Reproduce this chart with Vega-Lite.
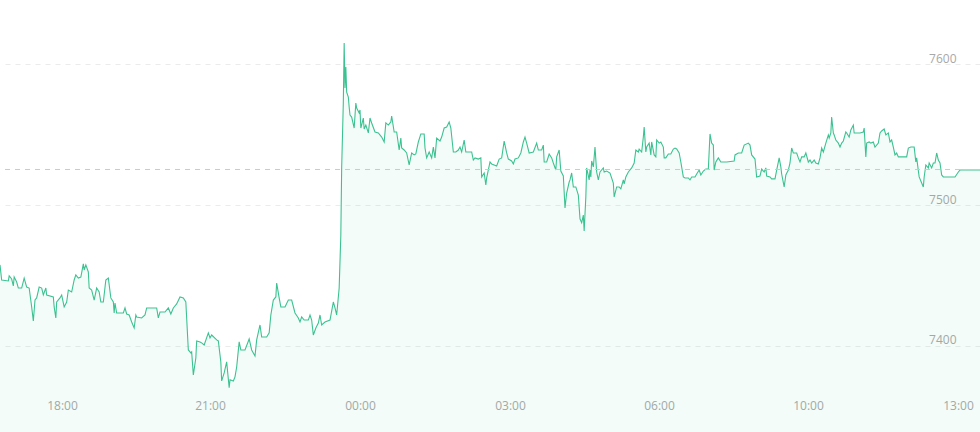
{
  "$schema": "https://vega.github.io/schema/vega-lite/v6.json",
  "width": 980,
  "height": 432,
  "autosize": "none",
  "padding": 0,
  "background": "#ffffff",
  "config": {"view": {"stroke": null}},
  "datasets": {
    "price": [
      {"m":0,"p":7457.5},{"m":2,"p":7446.8},{"m":10,"p":7446.1},{"m":11,"p":7449.7},{"m":14,"p":7447.5},{"m":16,"p":7442.6},{"m":17,"p":7448.9},{"m":20,"p":7445.4},{"m":22,"p":7441.1},{"m":26,"p":7441.1},{"m":29,"p":7448.2},{"m":32,"p":7441.8},{"m":35,"p":7441.1},{"m":38,"p":7427.7},{"m":40,"p":7417.7},{"m":42,"p":7432.6},{"m":44,"p":7434.1},{"m":47,"p":7441.8},{"m":50,"p":7441.1},{"m":52,"p":7436.2},{"m":55,"p":7441.1},{"m":56,"p":7436.2},{"m":64,"p":7434.8},{"m":65,"p":7427.7},{"m":67,"p":7419.9},{"m":68,"p":7431.2},{"m":72,"p":7434.1},{"m":74,"p":7436.2},{"m":77,"p":7427.7},{"m":80,"p":7431.2},{"m":82,"p":7439.7},{"m":86,"p":7438.3},{"m":89,"p":7446.8},{"m":91,"p":7450.4},{"m":94,"p":7448.2},{"m":97,"p":7448.9},{"m":100,"p":7458.2},{"m":101,"p":7453.9},{"m":103,"p":7457.5},{"m":106,"p":7452.5},{"m":107,"p":7441.1},{"m":110,"p":7439.7},{"m":113,"p":7432.6},{"m":116,"p":7441.1},{"m":119,"p":7438.3},{"m":121,"p":7431.2},{"m":124,"p":7431.2},{"m":127,"p":7446.8},{"m":130,"p":7448.2},{"m":133,"p":7434.1},{"m":136,"p":7431.2},{"m":137,"p":7423.4},{"m":138,"p":7430.5},{"m":140,"p":7423.4},{"m":148,"p":7423.4},{"m":150,"p":7427.0},{"m":152,"p":7422.7},{"m":155,"p":7422.0},{"m":158,"p":7417.0},{"m":161,"p":7412.8},{"m":163,"p":7422.0},{"m":164,"p":7420.6},{"m":170,"p":7419.9},{"m":174,"p":7422.0},{"m":176,"p":7427.0},{"m":188,"p":7427.0},{"m":190,"p":7419.9},{"m":192,"p":7424.1},{"m":198,"p":7424.1},{"m":202,"p":7427.0},{"m":205,"p":7422.7},{"m":208,"p":7427.0},{"m":212,"p":7429.8},{"m":216,"p":7434.8},{"m":220,"p":7434.1},{"m":223,"p":7431.2},{"m":226,"p":7397.2},{"m":229,"p":7395.1},{"m":230,"p":7395.8},{"m":232,"p":7379.5},{"m":235,"p":7391.5},{"m":236,"p":7403.6},{"m":240,"p":7402.9},{"m":242,"p":7402.2},{"m":245,"p":7400.7},{"m":250,"p":7409.3},{"m":252,"p":7405.7},{"m":254,"p":7407.8},{"m":260,"p":7404.3},{"m":262,"p":7403.6},{"m":265,"p":7388.7},{"m":266,"p":7375.2},{"m":269,"p":7380.9},{"m":272,"p":7388.7},{"m":275,"p":7370.4},{"m":276,"p":7376.0},{"m":280,"p":7375.2},{"m":282,"p":7378.1},{"m":284,"p":7385.1},{"m":287,"p":7402.9},{"m":289,"p":7397.2},{"m":294,"p":7397.2},{"m":299,"p":7405.0},{"m":302,"p":7397.2},{"m":306,"p":7392.9},{"m":308,"p":7404.3},{"m":312,"p":7414.9},{"m":314,"p":7406.4},{"m":320,"p":7406.4},{"m":323,"p":7409.3},{"m":325,"p":7422.0},{"m":328,"p":7432.6},{"m":331,"p":7434.8},{"m":332,"p":7444.7},{"m":335,"p":7434.1},{"m":337,"p":7427.7},{"m":342,"p":7427.7},{"m":346,"p":7432.6},{"m":350,"p":7432.6},{"m":354,"p":7423.4},{"m":358,"p":7419.9},{"m":360,"p":7417.0},{"m":362,"p":7420.6},{"m":365,"p":7418.4},{"m":370,"p":7418.4},{"m":372,"p":7422.0},{"m":374,"p":7418.4},{"m":376,"p":7407.8},{"m":379,"p":7412.8},{"m":382,"p":7416.3},{"m":384,"p":7422.0},{"m":386,"p":7414.9},{"m":390,"p":7417.0},{"m":396,"p":7418.4},{"m":400,"p":7431.2},{"m":402,"p":7427.0},{"m":404,"p":7422.0},{"m":407,"p":7441.1},{"m":409,"p":7478.7},{"m":410,"p":7526.3},{"m":412,"p":7573.1},{"m":413,"p":7614.9},{"m":414,"p":7583.0},{"m":415,"p":7597.9},{"m":416,"p":7580.1},{"m":418,"p":7576.6},{"m":419,"p":7569.5},{"m":420,"p":7563.8},{"m":422,"p":7562.4},{"m":425,"p":7554.6},{"m":427,"p":7572.3},{"m":428,"p":7568.8},{"m":431,"p":7565.3},{"m":432,"p":7567.4},{"m":433,"p":7554.6},{"m":436,"p":7561.7},{"m":437,"p":7553.9},{"m":439,"p":7556.7},{"m":442,"p":7551.1},{"m":444,"p":7561.7},{"m":446,"p":7558.2},{"m":450,"p":7551.8},{"m":454,"p":7551.1},{"m":458,"p":7548.2},{"m":461,"p":7544.7},{"m":463,"p":7558.2},{"m":466,"p":7556.7},{"m":469,"p":7558.9},{"m":470,"p":7563.1},{"m":473,"p":7551.8},{"m":476,"p":7551.8},{"m":479,"p":7539.0},{"m":481,"p":7547.5},{"m":482,"p":7540.4},{"m":485,"p":7539.0},{"m":488,"p":7536.9},{"m":491,"p":7528.4},{"m":494,"p":7536.9},{"m":497,"p":7535.5},{"m":499,"p":7536.2},{"m":502,"p":7544.7},{"m":505,"p":7550.4},{"m":509,"p":7550.4},{"m":510,"p":7540.4},{"m":512,"p":7533.4},{"m":515,"p":7537.6},{"m":518,"p":7533.4},{"m":520,"p":7541.1},{"m":522,"p":7533.4},{"m":524,"p":7547.5},{"m":528,"p":7545.4},{"m":530,"p":7548.2},{"m":533,"p":7554.6},{"m":536,"p":7555.3},{"m":539,"p":7558.9},{"m":541,"p":7554.6},{"m":544,"p":7537.6},{"m":547,"p":7537.6},{"m":550,"p":7539.0},{"m":552,"p":7541.1},{"m":554,"p":7537.6},{"m":557,"p":7546.1},{"m":559,"p":7537.6},{"m":566,"p":7537.6},{"m":568,"p":7531.9},{"m":570,"p":7533.4},{"m":574,"p":7532.6},{"m":577,"p":7533.4},{"m":578,"p":7519.9},{"m":581,"p":7522.7},{"m":583,"p":7514.2},{"m":584,"p":7519.2},{"m":588,"p":7530.5},{"m":590,"p":7529.1},{"m":596,"p":7527.7},{"m":599,"p":7532.6},{"m":602,"p":7533.4},{"m":605,"p":7545.4},{"m":608,"p":7536.9},{"m":610,"p":7532.6},{"m":614,"p":7531.2},{"m":616,"p":7529.1},{"m":618,"p":7532.6},{"m":622,"p":7533.4},{"m":625,"p":7536.9},{"m":628,"p":7544.7},{"m":630,"p":7548.2},{"m":632,"p":7543.9},{"m":635,"p":7536.9},{"m":640,"p":7537.6},{"m":644,"p":7543.9},{"m":646,"p":7539.0},{"m":650,"p":7539.0},{"m":652,"p":7542.5},{"m":653,"p":7530.5},{"m":656,"p":7530.5},{"m":659,"p":7536.2},{"m":662,"p":7533.4},{"m":664,"p":7529.8},{"m":667,"p":7524.8},{"m":668,"p":7534.1},{"m":671,"p":7539.0},{"m":673,"p":7524.1},{"m":676,"p":7520.6},{"m":678,"p":7497.9},{"m":680,"p":7508.5},{"m":683,"p":7516.3},{"m":684,"p":7517.8},{"m":686,"p":7522.7},{"m":688,"p":7512.8},{"m":691,"p":7512.8},{"m":694,"p":7507.1},{"m":696,"p":7490.2},{"m":698,"p":7487.4},{"m":700,"p":7492.9},{"m":701,"p":7481.6},{"m":703,"p":7505.7},{"m":704,"p":7526.3},{"m":707,"p":7517.8},{"m":708,"p":7524.8},{"m":709,"p":7519.9},{"m":710,"p":7531.2},{"m":712,"p":7527.0},{"m":714,"p":7541.1},{"m":716,"p":7523.4},{"m":718,"p":7517.8},{"m":720,"p":7523.4},{"m":724,"p":7526.3},{"m":725,"p":7523.4},{"m":728,"p":7524.1},{"m":732,"p":7522.7},{"m":736,"p":7515.6},{"m":737,"p":7505.7},{"m":740,"p":7512.8},{"m":743,"p":7512.8},{"m":745,"p":7511.4},{"m":748,"p":7517.8},{"m":749,"p":7514.9},{"m":751,"p":7519.9},{"m":754,"p":7523.4},{"m":758,"p":7526.3},{"m":761,"p":7529.8},{"m":763,"p":7539.0},{"m":766,"p":7537.6},{"m":767,"p":7539.7},{"m":770,"p":7537.6},{"m":772,"p":7548.2},{"m":773,"p":7555.3},{"m":775,"p":7537.6},{"m":776,"p":7541.1},{"m":779,"p":7543.9},{"m":781,"p":7535.5},{"m":782,"p":7544.7},{"m":785,"p":7535.5},{"m":787,"p":7534.1},{"m":788,"p":7546.1},{"m":791,"p":7543.9},{"m":793,"p":7544.7},{"m":796,"p":7541.1},{"m":797,"p":7533.4},{"m":799,"p":7533.4},{"m":802,"p":7536.2},{"m":805,"p":7536.2},{"m":808,"p":7539.7},{"m":810,"p":7540.4},{"m":812,"p":7539.7},{"m":815,"p":7536.9},{"m":817,"p":7530.5},{"m":820,"p":7519.9},{"m":822,"p":7519.2},{"m":826,"p":7519.2},{"m":828,"p":7517.8},{"m":830,"p":7519.9},{"m":834,"p":7519.9},{"m":836,"p":7522.0},{"m":839,"p":7524.8},{"m":841,"p":7521.3},{"m":844,"p":7524.1},{"m":847,"p":7525.5},{"m":850,"p":7525.5},{"m":852,"p":7550.4},{"m":854,"p":7543.9},{"m":856,"p":7542.5},{"m":857,"p":7524.8},{"m":859,"p":7530.5},{"m":862,"p":7533.4},{"m":865,"p":7530.5},{"m":872,"p":7530.5},{"m":881,"p":7531.2},{"m":882,"p":7535.5},{"m":886,"p":7536.9},{"m":890,"p":7536.9},{"m":893,"p":7542.5},{"m":898,"p":7543.9},{"m":900,"p":7542.5},{"m":902,"p":7535.5},{"m":906,"p":7532.6},{"m":908,"p":7519.9},{"m":912,"p":7520.6},{"m":914,"p":7525.5},{"m":917,"p":7523.4},{"m":919,"p":7526.3},{"m":920,"p":7520.6},{"m":924,"p":7519.9},{"m":926,"p":7518.5},{"m":930,"p":7518.5},{"m":932,"p":7524.8},{"m":935,"p":7533.4},{"m":937,"p":7527.0},{"m":938,"p":7522.0},{"m":941,"p":7512.8},{"m":943,"p":7521.3},{"m":946,"p":7524.8},{"m":948,"p":7529.8},{"m":950,"p":7540.4},{"m":952,"p":7536.9},{"m":956,"p":7536.9},{"m":958,"p":7533.4},{"m":960,"p":7530.5},{"m":962,"p":7534.1},{"m":965,"p":7534.1},{"m":967,"p":7536.9},{"m":970,"p":7530.5},{"m":972,"p":7531.9},{"m":974,"p":7529.8},{"m":977,"p":7531.9},{"m":979,"p":7529.8},{"m":982,"p":7529.1},{"m":984,"p":7533.4},{"m":986,"p":7540.4},{"m":988,"p":7537.6},{"m":991,"p":7543.9},{"m":994,"p":7549.7},{"m":995,"p":7547.5},{"m":997,"p":7551.1},{"m":998,"p":7562.4},{"m":1000,"p":7551.1},{"m":1001,"p":7549.7},{"m":1003,"p":7546.1},{"m":1006,"p":7543.9},{"m":1008,"p":7541.1},{"m":1010,"p":7543.9},{"m":1012,"p":7545.4},{"m":1015,"p":7551.8},{"m":1016,"p":7551.1},{"m":1019,"p":7548.2},{"m":1021,"p":7553.2},{"m":1024,"p":7556.7},{"m":1025,"p":7551.1},{"m":1028,"p":7551.1},{"m":1032,"p":7551.1},{"m":1036,"p":7551.8},{"m":1037,"p":7554.6},{"m":1039,"p":7534.1},{"m":1040,"p":7543.9},{"m":1043,"p":7544.7},{"m":1045,"p":7543.9},{"m":1048,"p":7544.7},{"m":1050,"p":7541.1},{"m":1054,"p":7543.9},{"m":1056,"p":7551.1},{"m":1058,"p":7552.5},{"m":1061,"p":7553.9},{"m":1063,"p":7549.7},{"m":1066,"p":7551.1},{"m":1068,"p":7544.7},{"m":1070,"p":7546.1},{"m":1072,"p":7541.1},{"m":1074,"p":7535.5},{"m":1076,"p":7536.9},{"m":1078,"p":7534.1},{"m":1082,"p":7534.1},{"m":1088,"p":7534.1},{"m":1090,"p":7540.4},{"m":1093,"p":7541.1},{"m":1097,"p":7541.1},{"m":1099,"p":7530.5},{"m":1100,"p":7533.4},{"m":1103,"p":7519.9},{"m":1106,"p":7515.6},{"m":1108,"p":7512.8},{"m":1109,"p":7519.9},{"m":1111,"p":7528.4},{"m":1114,"p":7526.3},{"m":1115,"p":7529.8},{"m":1118,"p":7526.3},{"m":1120,"p":7529.8},{"m":1122,"p":7529.8},{"m":1124,"p":7536.9},{"m":1126,"p":7531.9},{"m":1128,"p":7529.8},{"m":1130,"p":7521.3},{"m":1132,"p":7519.9},{"m":1146,"p":7519.9},{"m":1150,"p":7523.4},{"m":1152,"p":7524.8},{"m":1176,"p":7524.8}
    ],
    "last": [{"p": 7525.2}]
  },
  "layer": [
    {
      "data": {"name": "price"},
      "mark": {
        "type": "area",
        "color": "#2ebd85",
        "fillOpacity": 0.05,
        "interpolate": "linear",
        "clip": true,
        "line": {"color": "#3cc292", "strokeWidth": 1.1}
      },
      "encoding": {
        "x": {
          "field": "m",
          "type": "quantitative",
          "scale": {"domain": [0, 1176], "nice": false, "zero": false},
          "axis": {
            "orient": "bottom",
            "title": null,
            "values": [74.4, 252, 432, 612, 790.8, 969.6, 1149.6],
            "labelExpr": "datum.value < 100 ? '18:00' : datum.value < 300 ? '21:00' : datum.value < 500 ? '00:00' : datum.value < 700 ? '03:00' : datum.value < 900 ? '06:00' : datum.value < 1100 ? '10:00' : '13:00'",
            "grid": false,
            "domain": false,
            "ticks": false,
            "tickSize": 0,
            "labelPadding": -23,
            "labelBaseline": "alphabetic",
            "labelAlign": "center",
            "labelFont": "Open Sans",
            "labelFontSize": 12,
            "labelColor": "#a8a8a8",
            "labelFlush": false,
            "labelOverlap": false,
            "labelBound": false
          }
        },
        "y": {
          "field": "p",
          "type": "quantitative",
          "scale": {"domain": [7339, 7645.4], "nice": false, "zero": false},
          "axis": {
            "orient": "right",
            "title": null,
            "values": [7400, 7500, 7600],
            "format": "d",
            "grid": true,
            "gridColor": "#ebebeb",
            "gridDash": [5, 5],
            "gridWidth": 1,
            "domain": false,
            "ticks": false,
            "tickSize": 0,
            "labelPadding": -24,
            "labelAlign": "right",
            "labelBaseline": "alphabetic",
            "labelOffset": -2,
            "labelFont": "Open Sans",
            "labelFontSize": 12,
            "labelColor": "#a8a8a8",
            "labelFlush": false,
            "labelOverlap": false,
            "labelBound": false
          }
        },
        "y2": {"datum": 7339}
      }
    },
    {
      "data": {"name": "last"},
      "mark": {"type": "rule", "color": "#a6dec6", "strokeDash": [5, 5], "strokeWidth": 1},
      "encoding": {
        "y": {"field": "p", "type": "quantitative"}
      }
    }
  ]
}
